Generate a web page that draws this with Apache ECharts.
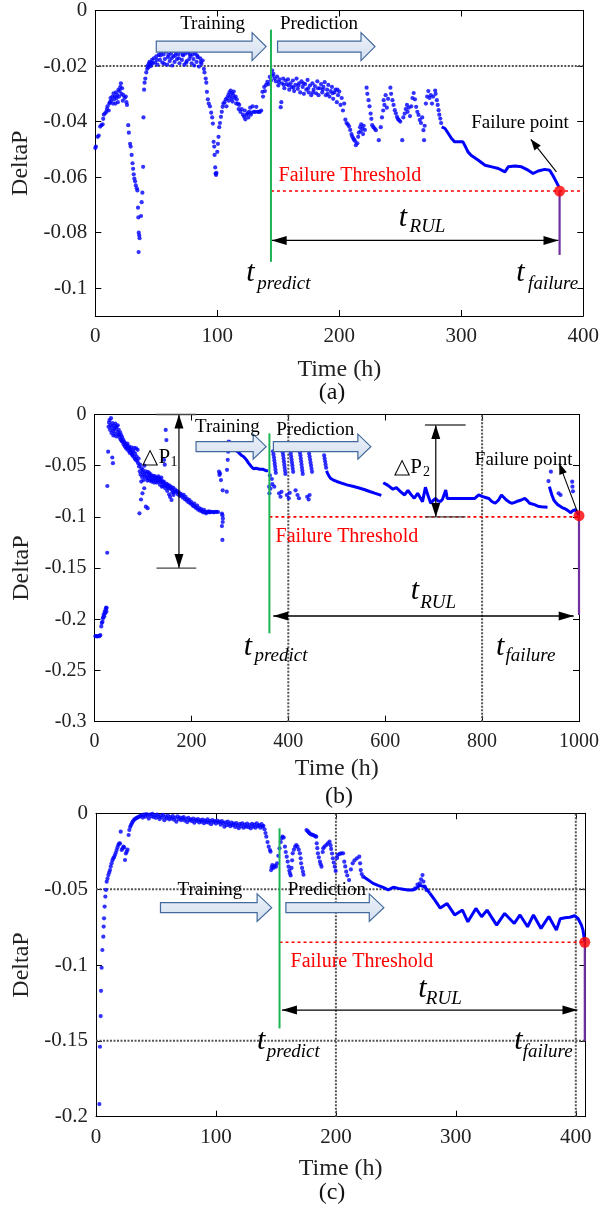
<!DOCTYPE html>
<html><head><meta charset="utf-8">
<script src="https://cdn.jsdelivr.net/npm/echarts@6/dist/echarts.min.js"></script>
<style>html,body{margin:0;padding:0;background:#fff}#c{width:602px;height:1209px}</style>
</head><body><div id="c"></div><script>
// ---------------- DATA ----------------
const aXTicks=[0,100,200,300,400];
const aYTicks=[0,-0.02,-0.04,-0.06,-0.08,-0.1];
const bXTicks=[0,200,400,600,800,1000];
const bYTicks=[0,-0.05,-0.1,-0.15,-0.2,-0.25,-0.3];
const cXTicks=[0,100,200,300,400];
const cYTicks=[0,-0.05,-0.1,-0.15,-0.2];

const aScatter=[[0,-0.0495],[0.5,-0.049],[2,-0.0455],[2.8,-0.045],[4,-0.0418],[5,-0.0413],[6,-0.041],[6.5,-0.039],[7,-0.0375],[8,-0.037],[9,-0.0365],[9.5,-0.0355],[10,-0.0345],[11,-0.036],[11.5,-0.0335],[12,-0.033],[12.5,-0.0315],[13,-0.0325],[14,-0.031],[14.5,-0.0335],[15,-0.0298],[15.5,-0.032],[16,-0.031],[16.5,-0.0335],[17,-0.0295],[17.5,-0.0315],[18,-0.0305],[18.5,-0.033],[19,-0.0285],[19.5,-0.031],[20,-0.029],[20.5,-0.0275],[21,-0.0262],[21.5,-0.03],[22,-0.028],[22.5,-0.0325],[23,-0.0305],[24,-0.0315],[25,-0.031],[25.5,-0.033],[26,-0.034],
[27,-0.0413],[27.5,-0.044],[28.5,-0.048],[29,-0.049],[29.8,-0.052],[30.5,-0.055],[31,-0.057],[31.5,-0.059],[32,-0.0605],[32.6,-0.0615],[33.2,-0.063],[34,-0.064],[34.5,-0.0648],[35,-0.071],[35.3,-0.0745],[35.6,-0.08],[36,-0.081],[36.3,-0.082],[35.5,-0.087],
[37.5,-0.074],[38,-0.069],[38.6,-0.0656],[39.2,-0.0563],[39.5,-0.0385],[40,-0.0285],[40.4,-0.026],[41,-0.0245],[41.8,-0.0223],[42.5,-0.021],[43,-0.0198],[43.5,-0.0205],[44,-0.019],[44.5,-0.0185],[45,-0.0195],[45.5,-0.02],[46,-0.0188],[46.5,-0.0178],[47,-0.019],[48,-0.0172],[49,-0.0188],[50,-0.0165],[50.5,-0.0178],[51,-0.0195],[52,-0.016],[53,-0.0178],[53.5,-0.0162],[54,-0.0152],[55,-0.0188],[56,-0.0158],[56.5,-0.0192],[57,-0.0175],[58,-0.0148],[59,-0.0195],[59.5,-0.0168],[60,-0.016],[61,-0.0182],[62,-0.0155],[62.5,-0.0172],[63,-0.0198],[64,-0.0165],[65,-0.0185],[65.5,-0.0162],[66,-0.0152],[67,-0.0175],[68,-0.0158],[68.5,-0.0172],[69,-0.019],[70,-0.0148],[71,-0.0178],[71.5,-0.0158],[72,-0.0162],[73,-0.0195],[74,-0.0155],[74.5,-0.0188],[75,-0.0182],[76,-0.015],[77,-0.0175],[77.5,-0.0158],[78,-0.0165],[79,-0.019],[80,-0.0158],[80.5,-0.0175],[81,-0.0198],[82,-0.0155],[83,-0.0185],[83.5,-0.0162],[84,-0.0168],[85,-0.0202],[86,-0.0172],[86.5,-0.0185],[87,-0.0192],[88,-0.018],[89,-0.021],
[89.5,-0.0223],[90.5,-0.0245],[91,-0.026],[91.5,-0.0293],[92.3,-0.032],[93,-0.0335],[94,-0.0345],[95,-0.0368],[95.8,-0.0385],[96.4,-0.0407],[97,-0.0473],[97.5,-0.049],[97.8,-0.052],[98.3,-0.0565],[98.6,-0.0587],[99,-0.0592],[99.3,-0.0585],
[100,-0.0509],[100.5,-0.048],[101,-0.0455],[101.6,-0.042],[102.2,-0.0405],[103,-0.0383],[103.7,-0.0365],[104.4,-0.0347],[105,-0.0335],[106,-0.033],[107,-0.032],[107.5,-0.0345],[108,-0.0315],[109,-0.0305],[109.5,-0.0325],[110,-0.0295],[110.5,-0.031],[111,-0.0288],[111.5,-0.0318],[112,-0.0298],[112.5,-0.0328],[113,-0.0305],[113.5,-0.0292],[114,-0.0315],[115,-0.031],[115.5,-0.0335],[116,-0.032],[117,-0.0335],[117.5,-0.0355],[118,-0.034],[119,-0.0365],[120,-0.0355],[121,-0.0375],[122,-0.0383],[122.5,-0.036],[123,-0.0392],[124,-0.0375],[125,-0.037],[125.5,-0.0385],[126,-0.0365],[127,-0.035],[127.5,-0.0375],[128,-0.0368],[129,-0.0345],[130,-0.0365],[131,-0.0365],[132,-0.0347],[133,-0.0365],[134,-0.0365],[135,-0.0365],[136,-0.036],
[137,-0.0293],[137.5,-0.031],[138.5,-0.0275],[139,-0.029],[140,-0.0268],[141,-0.0257],[142,-0.0265],[143,-0.0239],[144,-0.0252],[145,-0.0216],[145.5,-0.0235],[146,-0.0228],[147,-0.0245],
[148,-0.0255],[149,-0.0238],[150,-0.027],[150.5,-0.0258],[151,-0.0248],[152,-0.0348],[152.5,-0.033],[153,-0.0262],[154,-0.0245],[154.5,-0.0268],[155,-0.028],[156,-0.0252],[157,-0.0265],[158,-0.0248],[158.5,-0.027],[159,-0.0285],[160,-0.0262],[161,-0.0275],[162,-0.0252],[162.5,-0.0278],[163,-0.029],[164,-0.0268],[165,-0.0245],[166,-0.0282],[166.5,-0.027],[167,-0.0262],[168,-0.0295],[169,-0.0255],[170,-0.0275],[170.5,-0.0262],[171,-0.03],[172,-0.0265],[173,-0.0285],[174,-0.025],[174.5,-0.028],[175,-0.0295],[176,-0.027],[177,-0.0305],[178,-0.0262],[178.5,-0.0295],[179,-0.0285],[180,-0.0272],[181,-0.0298],[182,-0.0255],[182.5,-0.028],[183,-0.0305],[184,-0.028],[185,-0.0265],[186,-0.0295],[186.5,-0.0285],[187,-0.0275],[188,-0.0258],[189,-0.0305],[190,-0.0285],[190.5,-0.03],[191,-0.0268],[192,-0.031],[193,-0.029],[194,-0.0275],[194.5,-0.0298],[195,-0.0318],[196,-0.0295],[197,-0.0285],[198,-0.033],[198.5,-0.0285],[199,-0.0305],[200,-0.0292],[201,-0.034],[202,-0.0315],[203,-0.036],[204,-0.0335],[205,-0.0393],
[206,-0.0405],[207,-0.041],[208,-0.0417],[209,-0.043],[210,-0.0445],[210.6,-0.0453],[211.5,-0.046],[212,-0.0465],[213,-0.047],[213.6,-0.0485],[214.8,-0.0478],[215.5,-0.0455],[216,-0.044],[217,-0.042],[217.5,-0.0435],[218,-0.041],[219,-0.0425],[219.5,-0.0445],[220,-0.0415],[221,-0.043],
[222.4,-0.0278],[223,-0.03],[224,-0.0323],[224.8,-0.0345],[225.7,-0.0371],[226.3,-0.039],[227,-0.0413],[228,-0.042],[229,-0.0425],[230,-0.0431],[232.4,-0.0467],
[234,-0.042],[235,-0.0385],[236,-0.036],[236.4,-0.0323],[237,-0.034],[238,-0.0305],[239,-0.035],[240,-0.0318],[241.9,-0.0278],[242.5,-0.03],[243.6,-0.0323],[244.5,-0.034],[245.5,-0.0359],[246.4,-0.037],[247.3,-0.0383],[248,-0.039],[249,-0.0395],[250,-0.04],[251.6,-0.0467],
[252.5,-0.0385],[253.6,-0.0371],[254.5,-0.0355],[255.5,-0.034],[256,-0.0365],[257,-0.035],[258,-0.038],[259,-0.0345],[260,-0.0315],[261,-0.0297],[262,-0.032],[263,-0.0347],[264,-0.0365],[265,-0.0376],[266,-0.0394],[267,-0.0405],[268,-0.0385],[269,-0.0431],[269.5,-0.0467],[270,-0.0415],
[271,-0.0335],[272,-0.031],[273,-0.029],[274,-0.0315],[275,-0.0305],[276,-0.0335],[277,-0.031],[278.6,-0.0288],[279,-0.03],[280,-0.0323],[280.7,-0.034],[281.4,-0.0359],[282,-0.0375],[282.8,-0.0389],[283.5,-0.0405]];
const aLine=[[284,-0.0419],[286.7,-0.0425],[289.4,-0.0443],[292,-0.0461],[294.6,-0.0473],[298.7,-0.0473],[301.4,-0.0473],[302.8,-0.0485],[305.5,-0.0509],[308,-0.0521],[314,-0.0539],[319.5,-0.0557],[325,-0.0563],[330.4,-0.0569],[335.8,-0.0581],[338.5,-0.0563],[344,-0.056],[349.4,-0.0563],[354.8,-0.0575],[358.9,-0.0587],[363,-0.0578],[368.4,-0.0572],[372.5,-0.0575],[375,-0.0593],[377.9,-0.0617],[380,-0.0635]];
const aFail=[[380.6,-0.065]];

const bScatter=[[2,-0.2165],[4,-0.2165],[6,-0.2168],[8,-0.2163],[10,-0.2165],[12,-0.2155],[14,-0.207],[15,-0.2035],[16.5,-0.2025],[17.5,-0.199],[18,-0.198],[19,-0.1952],[20,-0.197],[21,-0.1926],[22,-0.194],[23,-0.19],[24,-0.1885],[24.5,-0.1925],[25,-0.189],
[26.2,-0.135],[26.5,-0.0698],[28.2,-0.0363],
[29,-0.012],[30,-0.008],[31,-0.0054],[32,-0.015],[33,-0.0105],[34,-0.0036],[35,-0.018],[36,-0.0125],[36.7,-0.042],[37,-0.0085],[38,-0.0475],[38.5,-0.016],[39,-0.0205],[40,-0.011],[41,-0.0145],[42,-0.019],[43,-0.009],[44,-0.013],[45,-0.0215],[46,-0.0118],[47,-0.017],[48,-0.0105],[49,-0.02],[50,-0.015],[51,-0.0195],[52,-0.0225],[53,-0.0175],[54,-0.0245],[55,-0.02],[56,-0.026],[57,-0.022],[58,-0.0265],[59,-0.0245],[60,-0.029],[61,-0.0265],[62,-0.0305],[63,-0.028],[64,-0.032],[65,-0.0297],[66,-0.0335],[67,-0.031],[68,-0.0285],[69,-0.033],[70,-0.0355],[71,-0.031],[72,-0.033],[73,-0.0375],[74,-0.034],[75,-0.036],[76,-0.032],[77,-0.0385],[78,-0.0395],[79,-0.035],[80,-0.041],[81,-0.0365],[82,-0.0325],[83,-0.043],[84,-0.0385],[85,-0.0443],[86,-0.033],[87,-0.041],[88,-0.0455],[89,-0.0345],[90,-0.0475],[91,-0.043],[92,-0.0508],[92.8,-0.0965],[93.5,-0.0555],[94,-0.049],[95,-0.0585],[96,-0.083],[96.5,-0.0655],[97,-0.0525],[98,-0.061],[99,-0.077],[99.5,-0.054],[100,-0.0565],[101,-0.064],[102,-0.0585],[102.6,-0.072],[103,-0.05],[104,-0.0605],[105,-0.0555],[106,-0.09],[107,-0.062],[108,-0.058],[109,-0.0645],[109.6,-0.0915],[110,-0.056],[111,-0.0605],[112,-0.0625],[113,-0.0573],[114,-0.0645],[115,-0.06],[116,-0.0585],[117,-0.0635],[118,-0.0655],[119,-0.0605],[120,-0.062],[121,-0.0645],[122,-0.06],[123,-0.0665],[124,-0.0625],[125,-0.0605],[126,-0.064],[127,-0.062],[128,-0.0665],[129,-0.0615],[130,-0.0635],[131,-0.0655],[132,-0.0605],[133,-0.062],[134,-0.0645],[135,-0.0685],[136,-0.063],[137,-0.066],[138,-0.0615],[139,-0.0705],[140,-0.065],
[143.7,-0.0443],[145,-0.049],[147,-0.0151],[148.4,-0.025],
[150,-0.0745],[152,-0.0705],[154,-0.078],[156,-0.0805],[157,-0.0725],[159,-0.0835],[161,-0.076],[163,-0.0785],
[141,-0.0665],[142,-0.07],[143,-0.0655],[144,-0.0685],[146,-0.072],[148,-0.0675],[149,-0.07],[151,-0.0685],[153,-0.072],[155,-0.0695],[158,-0.071],[160,-0.0735],[162,-0.0715],[164,-0.076],[166,-0.073],[168,-0.0755],[170,-0.0745],[172,-0.078],[174,-0.076],[176,-0.0795],[178,-0.0775],[180,-0.079],[182,-0.081],[184,-0.0785],[186,-0.0825],[188,-0.0805],[190,-0.084],[192,-0.0825],[194,-0.0856],[196,-0.0835],[198,-0.087],[200,-0.0855],[202,-0.088],[204,-0.0895],[206,-0.087],[208,-0.0902],[210,-0.0915],[212,-0.089],[214,-0.093],[216,-0.0915],[218,-0.094],[220,-0.0925],[222,-0.0945],[224,-0.0955],[226,-0.093],[228,-0.0951],[230,-0.0965],[232,-0.095],[234,-0.0955],[236,-0.0945],[238,-0.0955],[240,-0.095],[243,-0.0951],[246,-0.0955],[249,-0.095],[252,-0.0951],[255,-0.0952],
[257,-0.0558],[258,-0.059],[259,-0.0575],[261,-0.064],[264.6,-0.074],[263,-0.0967],[264,-0.0983],[264.6,-0.105],[263,-0.109],[264,-0.1225],[265,-0.1015],[273,-0.0754],[273.5,-0.054],[275,-0.0443],[276,-0.0363],[277,-0.0265],
[280,-0.0275],[283,-0.03],[286,-0.032],[289,-0.0335],
[368.5,-0.036],[369.5,-0.039],[370.5,-0.042],[371.2,-0.045],[372,-0.048],[372.8,-0.051],[373.5,-0.054],[374.2,-0.057],
[388.5,-0.037],[389.5,-0.04],[390.3,-0.043],[391,-0.046],[391.8,-0.049],[392.5,-0.052],[393.3,-0.055],[394,-0.058],
[405,-0.038],[406,-0.041],[406.8,-0.044],[407.6,-0.047],[408.4,-0.05],[409.2,-0.053],[410,-0.056],
[424,-0.037],[425,-0.04],[425.8,-0.043],[426.6,-0.046],[427.4,-0.049],[428.2,-0.052],[429,-0.055],[429.8,-0.058],
[443,-0.038],[444,-0.041],[445,-0.044],[446,-0.047],[447,-0.05],[448,-0.053],[449,-0.056],
[474,-0.04],[475,-0.043],[476,-0.046],[477,-0.049],[478,-0.052],
[366,-0.063],[367,-0.068],[362,-0.0595],[360.5,-0.0705],[361,-0.077],[363,-0.0725],
[371,-0.0705],[381,-0.077],[384,-0.0803],[397,-0.0786],[401,-0.0818],[415,-0.074],[419,-0.0786],[422,-0.0818],[439,-0.0803],[442,-0.0829],[444,-0.0786],[386,-0.0755],[403,-0.0765],
[942,-0.0558],[937,-0.065],[962,-0.0786],[986,-0.0656],[986.5,-0.0705],[987.5,-0.075],[958,-0.077]];
const bLine1=[[290,-0.0347],[296,-0.0365],[303,-0.0397],[308,-0.0412],[313.6,-0.0443],[318,-0.0475],[323.6,-0.0508],[328,-0.053],[333,-0.0525],[337,-0.054],[341,-0.0535],[344,-0.0525],[348,-0.0535],[351,-0.054],[355,-0.055],[358,-0.0547]];
const bLine2=[[479,-0.055],[481,-0.0575],[484,-0.06],[487,-0.0623],[492,-0.0638],[500,-0.0654],[510,-0.067],[521,-0.0687],[535,-0.0703],[548,-0.072],[558,-0.0735],[568,-0.0752],[578,-0.0768],[589,-0.0785],[592,-0.079]];
const bLine3=[[596,-0.0666],[605,-0.069],[616,-0.073],[623,-0.0715],[632,-0.0755],[640,-0.0786],[647,-0.074],[653,-0.078],[660,-0.0818],[667,-0.077],[672,-0.081],[677,-0.0851],[683,-0.0711],[688,-0.0786],[694,-0.0867],[699,-0.084],[704,-0.082],[709,-0.0845],[714,-0.085],[718,-0.083],[721,-0.082],[725,-0.0737],[728,-0.082],[733,-0.082],[738,-0.082],[750,-0.082],[765,-0.082],[785,-0.082],[793,-0.0786],[800,-0.08],[807,-0.081],[814,-0.082],[820,-0.085],[827,-0.0867],[834,-0.0835],[840,-0.0786],[845,-0.081],[850,-0.0835],[856,-0.0855],[861,-0.0867],[866,-0.086],[871,-0.085],[881,-0.0835],[888,-0.082],[893,-0.084],[898,-0.0867],[908,-0.088],[915,-0.0895],[922,-0.09],[935,-0.0905]];
const bLine4=[[939,-0.0705],[941,-0.074],[944,-0.0786],[948,-0.0835],[952,-0.086],[956,-0.088],[961,-0.0895],[966,-0.0911],[971,-0.092],[976,-0.0934],[980,-0.095],[983,-0.096],[987,-0.094],[990,-0.0927],[993,-0.093],[996,-0.094],[1000,-0.0988]];
const bFail=[[1000,-0.0988]];

const cScatter=[[2.8,-0.1917],[3.3,-0.1539],[3.9,-0.1337],[4.2,-0.117],[4.7,-0.1018],[5.3,-0.0901],[6.1,-0.0813],[6.4,-0.0747],[6.7,-0.0692],[7.2,-0.0615],[7.8,-0.0549],[8.3,-0.0505],[8.9,-0.0451],[9.6,-0.043],[10.3,-0.0407],[11,-0.039],[11.7,-0.0374],[12.3,-0.035],[13,-0.033],[13.7,-0.031],[14.4,-0.0297],[15.1,-0.0288],[15.8,-0.0275],[16.5,-0.026],[17.2,-0.0242],[17.9,-0.0225],[18.6,-0.0209],[19.3,-0.02],[20,-0.0198],[20.6,-0.0121],[21.4,-0.0242],[22.1,-0.0232],[22.8,-0.022],[23.5,-0.0225],[24.2,-0.0308],[24.9,-0.0265],[25.6,-0.0253],[26.3,-0.024],[27.2,-0.0143],[27.8,-0.011],[28.5,-0.009],[29.2,-0.0077],[29.9,-0.0066],[30.6,-0.0055],[31.5,-0.0045],[32.4,-0.0038],[33.3,-0.0033],[34.2,-0.003],[35.1,-0.0025],[36,-0.0022],[37,-0.0018],[38,-0.0012],[39,-0.0028],[40,-0.0009],[41,-0.0022],[42,-0.0005],[43,-0.0015],[44,-0.0035],[45,-0.0008],[46,-0.002],[47,-0.0004],[48,-0.0025],[49,-0.0012],[50,-0.003],[51,-0.0008],[52,-0.0022],[53,-0.0038],[54,-0.0015],[55,-0.0028],[56,-0.001],[57,-0.0045],[58,-0.0022],[59,-0.0032],[60,-0.0015],[61,-0.004],[62,-0.0025],[63,-0.0035],[64,-0.0018],[65,-0.0042],[66,-0.0028],[67,-0.0055],[68,-0.002],[69,-0.0038],[70,-0.0028],[71,-0.0045],[72,-0.0032],[73,-0.0025],[74,-0.0048],[75,-0.0035],[76,-0.0058],[77,-0.003],[78,-0.0045],[79,-0.004],[80,-0.0052],[81,-0.0035],[82,-0.0062],[83,-0.0042],[84,-0.005],[85,-0.0038],[86,-0.006],[87,-0.0045],[88,-0.0055],[89,-0.0042],[90,-0.0065],[91,-0.0048],[92,-0.0058],[93,-0.004],[94,-0.0062],[95,-0.005],[96,-0.0072],[97,-0.0045],[98,-0.0058],[99,-0.0052],[100,-0.0068],[101,-0.0048],[102,-0.006],[103,-0.0055],[104,-0.0075],[105,-0.0052],[106,-0.0065],[107,-0.0088],[108,-0.006],[109,-0.0078],[110,-0.0055],[111,-0.0072],[112,-0.0085],[113,-0.0062],[114,-0.0078],[115,-0.0068],[116,-0.009],[117,-0.0065],[118,-0.008],[119,-0.0098],[120,-0.007],[121,-0.0085],[122,-0.0066],[123,-0.0095],[124,-0.0075],[125,-0.0088],[126,-0.0068],[127,-0.0092],[128,-0.0078],[129,-0.0099],[130,-0.007],[131,-0.0088],[132,-0.0075],[133,-0.0095],[134,-0.0066],[135,-0.0085],[136,-0.0078],[137,-0.0095],[138,-0.0072],[139,-0.0088],[139.5,-0.0082],
[140.5,-0.0105],[141.3,-0.013],[142,-0.0154],[143,-0.019],[144,-0.022],[145,-0.0242],[145.5,-0.0253],[146,-0.0374],[146.5,-0.0355],[147,-0.0341],[148,-0.036],[149,-0.0345],[150,-0.0352],[151,-0.033],[152,-0.028],[153,-0.0231],[154,-0.019],[154.6,-0.0165],[155.5,-0.0154],[156.5,-0.016],
[157.5,-0.022],[158.2,-0.0255],[159,-0.0286],[159.8,-0.0318],[160.5,-0.0352],[161.2,-0.0378],[161.7,-0.0396],[162.3,-0.041],[163,-0.036],[163.5,-0.031],[164,-0.0264],[165,-0.024],[166,-0.022],[167,-0.0209],[168,-0.022],[169,-0.024],[170,-0.0264],[170.6,-0.0297],[171,-0.033],[171.8,-0.036],[172.5,-0.0385],[173,-0.0405],
[175.5,-0.011],[176.5,-0.0118],[177.3,-0.0125],[178,-0.0132],[179,-0.0138],[180,-0.014],[181,-0.0143],[182,-0.0148],[183,-0.0152],[183.6,-0.0154],[184,-0.0198],[184.5,-0.023],[185,-0.0264],[185.8,-0.029],[186.7,-0.0319],[187.3,-0.0336],[188,-0.0352],
[189,-0.0255],[189.4,-0.0231],[190.5,-0.022],[192,-0.0209],[193.3,-0.0198],[194.7,-0.0187],[195.5,-0.021],[196,-0.0235],[196.8,-0.0265],[197.5,-0.0297],[198.2,-0.0325],[199,-0.0352],[199.8,-0.038],
[201,-0.0295],[201.5,-0.0275],[203,-0.0268],[204.5,-0.0264],[206,-0.0264],[207,-0.0319],[207.8,-0.035],[208.6,-0.0385],[209.5,-0.041],[211,-0.044],
[212.5,-0.037],[214,-0.033],[215.5,-0.031],[217.5,-0.0297],[219.5,-0.0286],[220.2,-0.033],[220.7,-0.0374],[221.5,-0.04],[222.7,-0.0418],
[266,-0.0495],[268,-0.047],[270,-0.0462],[271,-0.0435],[272.2,-0.0407],[273,-0.045],[274,-0.0484],[275.5,-0.0505]];
const cLine1=[[223,-0.0418],[227,-0.044],[231,-0.0462],[235,-0.0475],[239.4,-0.0488],[243.6,-0.0505],[247.8,-0.0488],[252,-0.0495],[256,-0.05],[260,-0.0505],[264.4,-0.0505],[267,-0.0495],[270,-0.0475],[274,-0.0484],[278.3,-0.0527]];
const cLine2=[[278.3,-0.0527],[282.5,-0.0572],[287,-0.0625],[292.7,-0.0595],[299,-0.067],[305.5,-0.0638],[310,-0.0715],[316.7,-0.0627],[321.5,-0.0682],[326,-0.0638],[334,-0.0737],[340.7,-0.066],[348.7,-0.0726],[353.5,-0.067],[359.8,-0.0748],[364.7,-0.067],[371,-0.0759],[377.5,-0.068],[383.8,-0.077],[387,-0.0695],[391,-0.0688],[395,-0.0685],[399,-0.0675],[402,-0.0695],[404.7,-0.0737],[406,-0.077],[407.5,-0.0851]];
const cFail=[[407.5,-0.085]];

// ---------------- LAYOUT ----------------
const FONT='Liberation Serif';
const panels=[
 {grid:{left:95.3,top:10,width:490.1,height:306},xMin:0,xMax:400,yMin:-0.11,yMax:0,xt:aXTicks,yt:aYTicks,fs:21,xGap:42,yGap:55,label:'(a)',labX:332,labY:393},
 {grid:{left:94.5,top:414.5,width:490.5,height:307.2},xMin:0,xMax:1000,yMin:-0.3,yMax:0,xt:bXTicks,yt:bYTicks,fs:20,xGap:35,yGap:44,label:'(b)',labX:339,labY:797},
 {grid:{left:96,top:813.3,width:489.4,height:303.4},xMin:0,xMax:408,yMin:-0.2,yMax:0,xt:cXTicks,yt:cYTicks,fs:21,xGap:40,yGap:54,label:'(c)',labX:332,labY:1193}
];
const fmt=v=>String(Math.round(v*1000)/1000);
const grid=[],xAxis=[],yAxis=[],series=[];
panels.forEach((p,i)=>{
 grid.push(p.grid);
 const line={show:true,onZero:false,lineStyle:{color:'#000',width:1}};
 xAxis.push({type:'value',gridIndex:i,position:'bottom',min:p.xMin,max:p.xMax,axisLine:line,
   axisTick:{inside:true,length:6,customValues:p.xt,lineStyle:{color:'#000'}},
   axisLabel:{customValues:p.xt,formatter:fmt,fontFamily:FONT,fontSize:p.fs,color:'#222',margin:10},
   splitLine:{show:false},name:'Time (h)',nameLocation:'middle',nameGap:p.xGap,
   nameTextStyle:{fontFamily:FONT,fontSize:24,color:'#222'}});
 xAxis.push({type:'value',gridIndex:i,position:'top',min:p.xMin,max:p.xMax,axisLine:line,
   axisTick:{inside:true,length:6,customValues:p.xt,lineStyle:{color:'#000'}},axisLabel:{show:false},splitLine:{show:false}});
 yAxis.push({type:'value',gridIndex:i,position:'left',min:p.yMin,max:p.yMax,axisLine:line,
   axisTick:{inside:true,length:6,customValues:p.yt,lineStyle:{color:'#000'}},
   axisLabel:{customValues:p.yt,formatter:fmt,fontFamily:FONT,fontSize:p.fs,color:'#222',margin:8},
   splitLine:{show:false},name:'DeltaP',nameLocation:'middle',nameGap:p.yGap,
   nameTextStyle:{fontFamily:FONT,fontSize:24,color:'#222'}});
 yAxis.push({type:'value',gridIndex:i,position:'right',min:p.yMin,max:p.yMax,axisLine:line,
   axisTick:{inside:true,length:6,customValues:p.yt,lineStyle:{color:'#000'}},axisLabel:{show:false},splitLine:{show:false}});
});
function sc(i,data){return {type:'scatter',xAxisIndex:2*i,yAxisIndex:2*i,data,symbol:'circle',symbolSize:4.2,itemStyle:{color:'#0000ff'},silent:true,z:3};}
function ln(i,data){return {type:'line',xAxisIndex:2*i,yAxisIndex:2*i,data,showSymbol:false,lineStyle:{color:'#0000ff',width:3},silent:true,z:3};}
function fl(i,data){return {type:'scatter',xAxisIndex:2*i,yAxisIndex:2*i,data,symbol:'circle',symbolSize:11,itemStyle:{color:'#ff0000'},silent:true,z:20,clip:false};}
series.push(sc(0,aScatter),ln(0,aLine),fl(0,aFail));
series.push(sc(1,bScatter),ln(1,bLine1),ln(1,bLine2),ln(1,bLine3),ln(1,bLine4),fl(1,bFail));
series.push(sc(2,cScatter),ln(2,cLine1),ln(2,cLine2),fl(2,cFail));

const chart=echarts.init(document.getElementById('c'));
chart.setOption({animation:false,textStyle:{fontFamily:FONT},grid,xAxis,yAxis,series});

// ---------------- ANNOTATIONS ----------------
const ann=[
 {g:0,h:[-0.02],v:[],green:[144,-0.0069,-0.0905],thr:[144,400,-0.065],purple:[380.6,-0.065,-0.088],
  rul:[144.6,379.7,-0.0828],fp:[[378,-0.0581],[357,-0.0464]],
  blocks:[[50,140,-0.013],[149.4,229.3,-0.013]],bh:[5.5,14,14],
  texts:[['Training',96.1,-0.00503,'19px','#000','center'],['Prediction',183.4,-0.00503,'19px','#000','center'],
   ['Failure Threshold',208.7,-0.0596,'20px','#ff0000','center'],['Failure point',348.2,-0.0406,'19px','#000','center'],
   ['t',123.8,-0.0944,'italic 30px','#000','left'],['predict',132.8,-0.0985,'italic 19px','#000','left'],
   ['t',345,-0.0944,'italic 30px','#000','left'],['failure',354.8,-0.0985,'italic 19px','#000','left'],
   ['t',248.7,-0.0747,'italic 30px','#000','left'],['RUL',257.6,-0.078,'italic 19px','#000','left']],
  dp:[]},
 {g:1,h:[],v:[400,800],green:[361,-0.0184,-0.2137],thr:[361,1000,-0.1],purple:[1000,-0.1,-0.1958],
  rul:[369,989,-0.1968],fp:[[996.5,-0.0949],[959.2,-0.0477]],
  blocks:[[209.6,354.3,-0.0314],[369.2,570.4,-0.0314]],bh:[5,12.5,13],
  texts:[['Training',274.2,-0.0119,'19px','#000','center'],['Prediction',455.7,-0.0151,'19px','#000','center'],
   ['Failure Threshold',520.9,-0.1193,'20px','#ff0000','center'],['Failure point',885.8,-0.0444,'19px','#000','center'],
   ['△P',98.9,-0.0415,'21px','#000','left'],['1',157,-0.0464,'14px','#000','left'],
   ['△P',618.8,-0.0513,'21px','#000','left'],['2',677.9,-0.0562,'14px','#000','left'],
   ['t',308.3,-0.227,'italic 30px','#000','left'],['predict',330,-0.2361,'italic 19px','#000','left'],
   ['t',828.7,-0.227,'italic 30px','#000','left'],['failure',848.1,-0.2361,'italic 19px','#000','left'],
   ['t',652.6,-0.1724,'italic 30px','#000','left'],['RUL',672.2,-0.1837,'italic 19px','#000','left']],
  dp:[[174.3,0,-0.15,128,210],[704.4,-0.0103,-0.1,682,766]]},
 {g:2,h:[-0.05,-0.15],v:[200,400],green:[153,-0.0099,-0.1418],thr:[153,408,-0.085],purple:[407.5,-0.085,-0.15],
  rul:[155,401.4,-0.1297],fp:null,
  blocks:[[53.75,146.5,-0.0622],[158.3,240,-0.0622]],bh:[5,13.8,14.6],
  texts:[['Training',95,-0.0506,'19px','#000','center'],['Prediction',192.5,-0.0506,'19px','#000','center'],
   ['Failure Threshold',221.7,-0.0978,'20px','#ff0000','center'],
   ['t',134.3,-0.1501,'italic 30px','#000','left'],['predict',142.3,-0.1576,'italic 19px','#000','left'],
   ['t',348.7,-0.1501,'italic 30px','#000','left'],['failure',355.7,-0.1576,'italic 19px','#000','left'],
   ['t',268.7,-0.1158,'italic 30px','#000','left'],['RUL',275,-0.1226,'italic 19px','#000','left']],
  dp:[]}
];
const els=[];
function P(g,x,y){return chart.convertToPixel({gridIndex:g},[x,y]);}
function seg(p,q,style,z){els.push({type:'line',silent:true,z:z||10,shape:{x1:p[0],y1:p[1],x2:q[0],y2:q[1]},style:Object.assign({stroke:'#000',lineWidth:1.2},style)});}
function head(tip,from,len,hw,color){
 const dx=tip[0]-from[0],dy=tip[1]-from[1],L=Math.hypot(dx,dy),ux=dx/L,uy=dy/L,bx=tip[0]-ux*len,by=tip[1]-uy*len,nx=-uy,ny=ux;
 els.push({type:'polygon',silent:true,z:11,shape:{points:[[tip[0],tip[1]],[bx+nx*hw,by+ny*hw],[bx-nx*hw,by-ny*hw]]},style:{fill:color||'#000'}});
}
ann.forEach(a=>{
 const g=a.g,p=panels[g];
 a.h.forEach(v=>seg(P(g,p.xMin,v),P(g,p.xMax,v),{stroke:'#555',lineWidth:2,lineDash:[2,1.5]},1));
 a.v.forEach(x=>seg(P(g,x,p.yMin),P(g,x,p.yMax),{stroke:'#555',lineWidth:2,lineDash:[2,1.5]},1));
 seg(P(g,a.thr[0],a.thr[2]),P(g,a.thr[1],a.thr[2]),{stroke:'#ff0000',lineWidth:1.6,lineDash:[3,3]},9);
 seg(P(g,a.green[0],a.green[1]),P(g,a.green[0],a.green[2]),{stroke:'#1db454',lineWidth:2},12);
 seg(P(g,a.purple[0],a.purple[1]),P(g,a.purple[0],a.purple[2]),{stroke:'#7030a0',lineWidth:2.2},12);
 const r1=P(g,a.rul[0],a.rul[2]),r2=P(g,a.rul[1],a.rul[2]);
 seg(r1,r2,{stroke:'#000',lineWidth:1.3});head(r1,r2,15,4.5);head(r2,r1,15,4.5);
 if(a.fp){const f1=P(g,a.fp[0][0],a.fp[0][1]),f2=P(g,a.fp[1][0],a.fp[1][1]);seg(f1,f2,{stroke:'#000',lineWidth:1.1});head(f2,f1,11,4);}
 a.dp.forEach(d=>{
  const t=P(g,d[0],d[1]),b=P(g,d[0],d[2]);
  seg(t,b,{stroke:'#000',lineWidth:1.2});head(t,b,14,4.5);head(b,t,14,4.5);
  seg(P(g,d[3],d[1]),P(g,d[4],d[1]),{stroke:'#444',lineWidth:1.4});
  seg(P(g,d[3],d[2]),P(g,d[4],d[2]),{stroke:'#444',lineWidth:1.4});
 });
 const [hb,hh,hl]=a.bh;
 a.blocks.forEach(bk=>{
  const s=P(g,bk[0],bk[2]),e=P(g,bk[1],bk[2]),y=s[1],x0=s[0],x1=e[0];
  els.push({type:'polygon',silent:true,z:8,shape:{points:[[x0,y-hb],[x1-hl,y-hb],[x1-hl,y-hh],[x1,y],[x1-hl,y+hh],[x1-hl,y+hb],[x0,y+hb]]},
   style:{fill:new echarts.graphic.LinearGradient(0,0,0,1,[{offset:0,color:'#eef3fa'},{offset:1,color:'#d3deef'}]),stroke:'#41699c',lineWidth:1.2}});
 });
 a.texts.forEach(t=>{
  const q=P(g,t[1],t[2]);
  els.push({type:'text',silent:true,z:13,x:q[0],y:q[1],style:{text:t[0],font:t[3]+' "'+FONT+'"',fill:t[4],align:t[5],verticalAlign:'middle'}});
 });
 els.push({type:'text',silent:true,z:13,x:p.labX,y:p.labY,style:{text:p.label,font:'24px "'+FONT+'"',fill:'#111',align:'center',verticalAlign:'middle'}});
});
chart.setOption({graphic:{elements:els}});
</script></body></html>
